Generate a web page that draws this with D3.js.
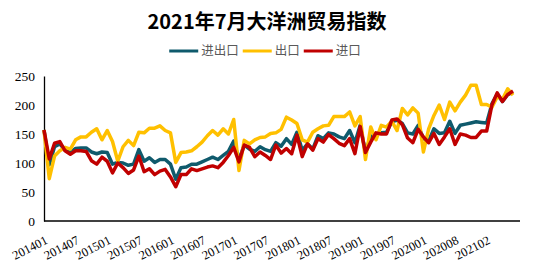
<!DOCTYPE html>
<html>
<head>
<meta charset="utf-8">
<script src="https://cdn.jsdelivr.net/npm/d3@7"></script>
<style>
  body { margin: 0; background: #fff; }
  .title { font-family: "Noto Sans CJK SC", sans-serif; font-weight: bold; font-size: 20px; fill: #000; }
  .legend text { font-family: "Noto Sans CJK SC", sans-serif; font-size: 12.5px; fill: #595959; }
  .axis text { font-family: "Liberation Serif", "Times New Roman", serif; fill: #000; }
  .axis path { stroke: #000; stroke-width: 1.3; }
  .series { fill: none; stroke-width: 3.5; stroke-linejoin: round; }
</style>
</head>
<body>
<svg id="chart" width="534" height="267"></svg>
<script>

// categories: monthly 201401..202107, 202002 is folded into 202001
const months = [];
for (let yr = 2014; yr <= 2021; yr++) {
  for (let m = 1; m <= 12; m++) {
    const c = yr + String(m).padStart(2, "0");
    if (c === "202002") continue;
    if (c > "202107") break;
    months.push(c);
  }
}

const tickLabels = ["201401", "201407", "201501", "201507", "201601", "201607", "201701", "201707",
  "201801", "201807", "201901", "201907", "202001", "202008", "202102"];

const yTicks = [0, 50, 100, 150, 200, 250];

const seriesNames = ["进出口", "出口", "进口"];
const colors = ["#0f5a6c", "#ffc000", "#c00000"];

const total = [157, 97, 128, 133, 122, 118, 125, 126, 126, 119,
  116, 119, 118, 98, 101, 100, 96, 98, 123, 103,
  109, 101, 106, 106, 98, 72, 92, 93, 98, 98,
  102, 106, 110, 106, 113, 120, 138, 106, 131, 124,
  120, 128, 123, 120, 135, 129, 142, 132, 153, 122,
  133, 124, 147, 142, 152, 150, 145, 142, 156, 135,
  165, 119, 145, 150, 152, 153, 171, 174, 168, 152,
  150, 165, 142, 138, 159, 151, 152, 172, 151, 165,
  167, 169, 171, 170, 169, 202, 219, 206, 218, 222];

const exportIdx = [157, 73, 112, 121, 127, 124, 140, 145, 145, 153,
  159, 140, 156, 137, 103, 128, 139, 130, 153, 152,
  160, 160, 164, 156, 152, 101, 118, 119, 121, 128,
  136, 147, 156, 148, 159, 150, 175, 87, 139, 133,
  140, 144, 145, 151, 152, 158, 179, 174, 168, 140,
  136, 153, 159, 164, 165, 180, 180, 180, 188, 164,
  180, 106, 162, 140, 165, 162, 172, 156, 194, 183,
  195, 186, 119, 159, 182, 200, 175, 205, 190, 205,
  217, 234, 234, 201, 201, 196, 214, 210, 228, 217];

const importIdx = [157, 107, 134, 137, 121, 115, 121, 121, 120, 104,
  98, 110, 103, 83, 100, 92, 82, 88, 112, 85,
  90, 80, 86, 89, 76, 59, 80, 80, 90, 87,
  90, 93, 95, 92, 101, 113, 127, 102, 131, 127,
  111, 119, 113, 106, 131, 117, 125, 116, 148, 111,
  133, 122, 142, 136, 149, 142, 134, 130, 142, 116,
  163, 118, 136, 152, 150, 150, 174, 176, 166, 143,
  135, 158, 145, 135, 151, 132, 145, 159, 132, 150,
  148, 144, 144, 155, 155, 200, 221, 206, 218, 224];

const svg = d3.select("#chart");
const margin = {top: 76, right: 14, bottom: 46, left: 44},
  width = +svg.attr("width") - margin.left - margin.right,
  height = +svg.attr("height") - margin.top - margin.bottom;

// last point sits a little short of the axis end
const x = d3.scalePoint().domain(months).range([margin.left, margin.left + width - 7]);
const y = d3.scaleLinear().domain([0, 250]).range([margin.top + height, margin.top]);

// title
svg.append("text")
    .attr("class", "title")
    .attr("x", 267)
    .attr("y", 29)
    .attr("text-anchor", "middle")
    .text("2021年7月大洋洲贸易指数");

// legend
const legend = svg.append("g").attr("class", "legend");
let lx = 0;
seriesNames.forEach((name, i) => {
  const item = legend.append("g").attr("transform", "translate(" + lx + ",0)");
  item.append("line")
      .attr("x1", 0).attr("x2", 29)
      .attr("y1", 0).attr("y2", 0)
      .attr("stroke", colors[i])
      .attr("stroke-width", 3);
  const t = item.append("text")
      .attr("x", 32)
      .attr("dy", "0.35em")
      .text(name);
  lx += 32 + t.node().getComputedTextLength() + 4;
});
legend.attr("transform", "translate(" + (265 - (lx - 4) / 2) + ",51)");

// y axis
svg.append("g")
    .attr("class", "axis axis--y")
    .attr("transform", "translate(" + margin.left + ",0)")
    .call(d3.axisLeft(y).tickValues(yTicks).tickSize(0).tickPadding(9))
    .call(g => g.selectAll("text").style("font-size", "13.5px"));

// x axis
const gx = svg.append("g")
    .attr("class", "axis axis--x")
    .attr("transform", "translate(0," + y(0) + ")")
    .call(d3.axisBottom(x).tickValues(tickLabels).tickSize(0));
gx.select(".domain").attr("d", "M" + x.range()[0] + ",0H" + (margin.left + width));
gx.selectAll("text")
    .style("font-size", "12.5px")
    .attr("text-anchor", "end")
    .attr("y", 0)
    .attr("dy", 0)
    .attr("transform", "translate(4,22) rotate(-27)");

// lines
const line = d3.line()
    .x((d, i) => x(months[i]))
    .y(d => y(d));

[total, exportIdx, importIdx].forEach((vals, i) => {
  svg.append("path")
      .datum(vals)
      .attr("class", "series")
      .attr("stroke", colors[i])
      .attr("d", line);
});
</script>
</body>
</html>
